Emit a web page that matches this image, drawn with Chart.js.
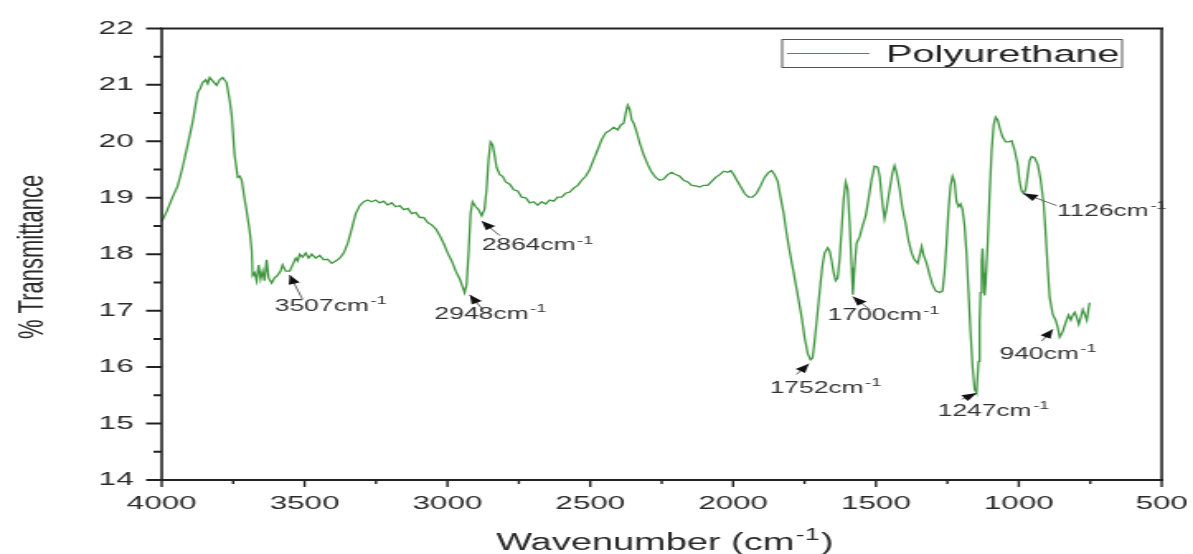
<!DOCTYPE html>
<html>
<head>
<meta charset="utf-8">
<title>Polyurethane FTIR</title>
<script src="https://cdn.jsdelivr.net/npm/chart.js@4.4.1/dist/chart.umd.min.js"></script>
<style>
  html, body { margin: 0; padding: 0; background: #fff; }
</style>
</head>
<body>
<!-- the source figure is stretched sideways, so draw narrow and widen with css -->
<canvas id="chart" width="723" height="554" style="display:block;width:1193px;height:554px"></canvas>
<script>
// wavenumber (cm-1) and % transmittance
const wavenumbers = [
  4000, 3983, 3962, 3944, 3927, 3909, 3892, 3874, 3864, 3857, 3846, 3839, 3832, 3822, 3808, 3797,
  3787, 3773, 3762, 3755, 3745, 3734, 3727, 3720, 3710, 3703, 3692, 3685, 3682, 3675, 3668, 3661,
  3654, 3647, 3640, 3633, 3626, 3615, 3605, 3594, 3584, 3577, 3566, 3552, 3542, 3531, 3524, 3517,
  3507, 3496, 3486, 3475, 3461, 3447, 3433, 3419, 3405, 3391, 3377, 3363, 3349, 3335, 3321, 3307,
  3293, 3279, 3265, 3251, 3237, 3223, 3209, 3195, 3181, 3167, 3153, 3139, 3125, 3111, 3097, 3083,
  3069, 3055, 3041, 3027, 3013, 2999, 2985, 2971, 2957, 2947, 2940, 2933, 2926, 2919, 2912, 2901,
  2891, 2880, 2870, 2863, 2856, 2849, 2842, 2835, 2828, 2817, 2807, 2796, 2782, 2768, 2754, 2740,
  2726, 2712, 2698, 2684, 2670, 2656, 2642, 2628, 2614, 2600, 2586, 2572, 2558, 2544, 2530, 2516,
  2502, 2488, 2474, 2460, 2446, 2432, 2418, 2404, 2393, 2383, 2376, 2369, 2362, 2355, 2348, 2338,
  2327, 2313, 2299, 2285, 2271, 2257, 2243, 2229, 2215, 2201, 2187, 2173, 2159, 2145, 2131, 2117,
  2103, 2089, 2075, 2061, 2047, 2033, 2019, 2008, 1998, 1987, 1973, 1959, 1946, 1932, 1918, 1904,
  1890, 1876, 1865, 1855, 1844, 1834, 1823, 1813, 1802, 1788, 1774, 1760, 1750, 1739, 1729, 1722,
  1715, 1708, 1701, 1694, 1687, 1680, 1669, 1662, 1655, 1648, 1641, 1634, 1627, 1620, 1613, 1606,
  1599, 1592, 1585, 1581, 1575, 1568, 1557, 1547, 1536, 1526, 1515, 1505, 1494, 1487, 1477, 1470,
  1463, 1452, 1442, 1435, 1428, 1417, 1407, 1396, 1386, 1375, 1365, 1354, 1347, 1340, 1333, 1323,
  1312, 1302, 1291, 1277, 1267, 1260, 1253, 1246, 1239, 1232, 1225, 1218, 1211, 1204, 1197, 1190,
  1183, 1176, 1169, 1162, 1155, 1148, 1141, 1137, 1134, 1130, 1127, 1123, 1120, 1116, 1109, 1102,
  1095, 1088, 1081, 1074, 1067, 1057, 1046, 1036, 1025, 1015, 1004, 997, 990, 983, 976, 969,
  962, 955, 945, 934, 924, 913, 906, 899, 892, 881, 871, 864, 857, 847, 836, 826,
  818, 811, 804, 797, 790, 783, 776, 769, 762, 755, 752
];
const transmittance = [
  18.58, 18.75, 19.01, 19.21, 19.54, 19.94, 20.34, 20.86, 20.95, 21.04, 21.09, 21.02, 21.13, 21.07, 20.99, 21.09,
  21.13, 21.04, 20.72, 20.46, 19.76, 19.36, 19.38, 19.31, 18.98, 18.77, 18.40, 18.07, 17.62, 17.67, 17.53, 17.81,
  17.56, 17.70, 17.53, 17.90, 17.58, 17.49, 17.58, 17.63, 17.70, 17.81, 17.70, 17.70, 17.81, 17.93, 17.88, 18.00,
  17.95, 18.02, 17.93, 18.00, 17.93, 17.98, 17.90, 17.91, 17.84, 17.88, 17.93, 18.02, 18.19, 18.45, 18.72, 18.86,
  18.93, 18.96, 18.93, 18.96, 18.91, 18.94, 18.87, 18.91, 18.84, 18.86, 18.79, 18.81, 18.72, 18.74, 18.65, 18.65,
  18.56, 18.52, 18.45, 18.33, 18.19, 18.02, 17.88, 17.70, 17.56, 17.42, 17.32, 17.46, 18.02, 18.72, 18.93, 18.84,
  18.79, 18.68, 18.80, 19.15, 19.68, 19.99, 19.94, 19.76, 19.54, 19.41, 19.38, 19.28, 19.24, 19.14, 19.12, 19.01,
  19.00, 18.91, 18.93, 18.87, 18.93, 18.89, 18.96, 18.94, 19.01, 19.01, 19.08, 19.10, 19.17, 19.22, 19.31, 19.38,
  19.50, 19.68, 19.85, 20.03, 20.15, 20.19, 20.25, 20.20, 20.29, 20.32, 20.50, 20.64, 20.57, 20.38, 20.32, 20.17,
  19.97, 19.76, 19.59, 19.45, 19.36, 19.31, 19.33, 19.41, 19.45, 19.41, 19.38, 19.31, 19.28, 19.22, 19.21, 19.19,
  19.22, 19.22, 19.29, 19.36, 19.41, 19.47, 19.45, 19.48, 19.41, 19.31, 19.19, 19.07, 19.01, 19.01, 19.08, 19.21,
  19.36, 19.45, 19.48, 19.41, 19.29, 19.01, 18.72, 18.37, 18.05, 17.67, 17.28, 16.88, 16.53, 16.24, 16.13, 16.16,
  16.45, 16.79, 17.14, 17.49, 17.81, 18.02, 18.11, 18.05, 17.88, 17.67, 17.53, 17.58, 17.93, 18.45, 18.98, 19.28,
  19.15, 18.54, 17.76, 17.28, 17.76, 18.19, 18.31, 18.50, 18.68, 18.98, 19.33, 19.56, 19.54, 19.38, 18.89, 18.63,
  18.80, 19.15, 19.45, 19.57, 19.45, 19.15, 18.80, 18.54, 18.24, 18.02, 17.90, 17.84, 17.98, 18.14, 17.98, 17.84,
  17.63, 17.46, 17.35, 17.32, 17.35, 17.67, 18.19, 18.80, 19.21, 19.38, 19.28, 18.93, 18.84, 18.89, 18.79, 18.51,
  18.02, 17.32, 16.62, 16.01, 15.61, 15.54, 16.10, 16.79, 17.32, 17.88, 18.10, 17.67, 17.27, 17.49, 18.19, 19.07,
  19.85, 20.29, 20.43, 20.38, 20.24, 20.08, 19.99, 19.99, 20.01, 19.85, 19.59, 19.28, 19.12, 19.08, 19.15, 19.41,
  19.66, 19.73, 19.71, 19.59, 19.33, 18.89, 18.37, 17.76, 17.23, 16.93, 16.83, 16.71, 16.53, 16.62, 16.79, 16.92,
  16.83, 16.92, 16.97, 16.88, 16.76, 16.88, 17.02, 16.93, 16.83, 17.06, 17.14
];

const xTickValues = [4000, 3500, 3000, 2500, 2000, 1500, 1000, 500];
const yTickValues = [14, 15, 16, 17, 18, 19, 20, 21, 22];

// peak labels: arrow tip, arrow tail and text start (left, baseline) in data units
const peakLabels = ['3507', '2948', '2864', '1752', '1700', '1247', '940', '1126'];
const peakTipX  = [3552, 2922, 2880, 1735, 1581, 1147, 881, 986];
const peakTipY  = [17.63, 17.28, 18.59, 16.06, 17.25, 15.54, 16.67, 19.08];
const peakTailX = [3507, 2876, 2817, 1778, 1522, 1200, 920, 867];
const peakTailY = [17.20, 17.02, 18.33, 15.87, 17.02, 15.43, 16.46, 18.86];
const peakTextX = [3604, 3045, 2880, 1872, 1669, 1284, 1067, 867];
const peakTextY = [17.00, 16.85, 18.07, 15.54, 16.83, 15.14, 16.15, 18.68];

const FONT = "'Liberation Sans', Arial, sans-serif";
const GREEN = 'rgb(64,150,64)';
const INK = '#2a2a2a';

// text with a raised "-1", returns the full width
const drawSup = (ctx, x, y, base, sup, size, tail = '') => {
  ctx.font = `${size}px ${FONT}`;
  ctx.fillText(base, x, y);
  let w = ctx.measureText(base).width;
  const small = Math.round(size * 0.68);
  ctx.font = `${small}px ${FONT}`;
  ctx.fillText(sup, x + w + 1, y - size * 0.42);
  w += 1 + ctx.measureText(sup).width;
  if (tail) {
    ctx.font = `${size}px ${FONT}`;
    ctx.fillText(tail, x + w + 1, y);
    w += 1 + ctx.measureText(tail).width;
  }
  return w;
};

const measureSup = (ctx, base, sup, size, tail = '') => {
  ctx.font = `${size}px ${FONT}`;
  let w = ctx.measureText(base).width + ctx.measureText(tail).width + 2;
  ctx.font = `${Math.round(size * 0.68)}px ${FONT}`;
  return w + ctx.measureText(sup).width;
};

const decorPlugin = {
  id: 'decor',
  afterDraw(chart) {
    const { ctx, chartArea: a, scales: { x, y } } = chart;
    ctx.save();

    // frame
    ctx.strokeStyle = '#222';
    ctx.lineWidth = 2;
    ctx.beginPath();
    ctx.moveTo(a.left - 1, a.top); ctx.lineTo(a.right + 1, a.top);
    ctx.moveTo(a.left - 1, a.bottom); ctx.lineTo(a.right + 1, a.bottom);
    ctx.stroke();
    ctx.lineWidth = 1.6;
    ctx.beginPath();
    ctx.moveTo(a.left, a.top); ctx.lineTo(a.left, a.bottom);
    ctx.moveTo(a.right, a.top); ctx.lineTo(a.right, a.bottom);
    ctx.stroke();

    // outward ticks, minor ones at half steps
    ctx.lineWidth = 2;
    ctx.beginPath();
    for (let v = 14; v <= 22; v += 0.5) {
      const py = y.getPixelForValue(v);
      const len = v % 1 === 0 ? 9.5 : 5;
      ctx.moveTo(a.left - len, py); ctx.lineTo(a.left, py);
    }
    ctx.stroke();
    ctx.lineWidth = 1.4;
    ctx.beginPath();
    for (let v = 500; v <= 4000; v += 250) {
      const px = x.getPixelForValue(v);
      const len = v % 500 === 0 ? 7 : 4;
      ctx.moveTo(px, a.bottom); ctx.lineTo(px, a.bottom + len);
    }
    ctx.stroke();

    // legend
    ctx.strokeStyle = '#555';
    ctx.lineWidth = 1;
    ctx.strokeRect(474, 39.5, 206, 28);
    ctx.strokeStyle = GREEN;
    ctx.lineWidth = 1;
    ctx.beginPath();
    ctx.moveTo(477, 53.5); ctx.lineTo(527, 53.5);
    ctx.stroke();
    ctx.fillStyle = '#222';
    ctx.font = `24px ${FONT}`;
    ctx.textBaseline = 'alphabetic';
    ctx.textAlign = 'left';
    ctx.fillText(chart.data.datasets[0].label, 537, 61.5);

    // axis titles
    ctx.fillStyle = INK;
    const tw = measureSup(ctx, 'Wavenumber (cm', '-1', 23, ')');
    drawSup(ctx, (a.left + a.right) / 2 - tw / 2 + 2, 550, 'Wavenumber (cm', '-1', 23, ')');
    ctx.save();
    ctx.translate(25.5, 257);
    ctx.rotate(-Math.PI / 2);
    ctx.textAlign = 'center';
    ctx.font = `22px ${FONT}`;
    ctx.fillText('% Transmittance', 0, 0);
    ctx.restore();

    // peak annotations
    peakLabels.forEach((label, i) => {
      const tx = x.getPixelForValue(peakTipX[i]);
      const ty = y.getPixelForValue(peakTipY[i]);
      const sx = x.getPixelForValue(peakTailX[i]);
      const sy = y.getPixelForValue(peakTailY[i]);
      ctx.strokeStyle = '#666';
      ctx.lineWidth = 1;
      ctx.beginPath();
      ctx.moveTo(sx, sy); ctx.lineTo(tx, ty);
      ctx.stroke();
      const ang = Math.atan2(ty - sy, tx - sx);
      const c = Math.cos(ang), s = Math.sin(ang);
      ctx.fillStyle = '#111';
      ctx.beginPath();
      ctx.moveTo(tx, ty);
      ctx.lineTo(tx - 9 * c + 3.5 * s, ty - 9 * s - 3.5 * c);
      ctx.lineTo(tx - 9 * c - 3.5 * s, ty - 9 * s + 3.5 * c);
      ctx.closePath();
      ctx.fill();
      ctx.fillStyle = '#333';
      drawSup(ctx, x.getPixelForValue(peakTextX[i]), y.getPixelForValue(peakTextY[i]), label + 'cm', '-1', 16);
    });

    ctx.restore();
  }
};

const ctx = document.querySelector('#chart').getContext('2d');
const chart = new Chart(ctx, {
  type: 'line',
  data: {
    datasets: [{
      label: 'Polyurethane',
      data: wavenumbers.map((w, i) => ({ x: w, y: transmittance[i] })),
      borderColor: GREEN,
      borderWidth: 1.3,
      pointRadius: 0,
      tension: 0,
      fill: false
    }]
  },
  options: {
    responsive: false,
    devicePixelRatio: 1,
    animation: false,
    layout: { padding: { left: 0, right: 19, top: 22, bottom: 0 } },
    plugins: {
      legend: { display: false },
      tooltip: { enabled: false }
    },
    scales: {
      x: {
        type: 'linear',
        reverse: true,
        min: 500,
        max: 4000,
        grid: { display: false, drawTicks: false },
        border: { display: false },
        afterBuildTicks: s => { s.ticks = xTickValues.map(v => ({ value: v })); },
        // fixed height, and no extra room for the end labels
        afterFit: s => { s.height = 74; s.paddingLeft = 0; s.paddingRight = 0; },
        ticks: {
          autoSkip: false,
          maxRotation: 0,
          padding: 12,
          color: INK,
          font: { family: FONT, size: 19 },
          callback: v => String(v)
        }
      },
      y: {
        min: 14,
        max: 22,
        grid: { display: false, drawTicks: false },
        border: { display: false },
        afterBuildTicks: s => { s.ticks = yTickValues.map(v => ({ value: v })); },
        afterFit: s => { s.width = 98; },
        ticks: {
          padding: 17,
          color: INK,
          font: { family: FONT, size: 19 },
          callback: v => String(v)
        }
      }
    }
  },
  plugins: [decorPlugin]
});
</script>
</body>
</html>
